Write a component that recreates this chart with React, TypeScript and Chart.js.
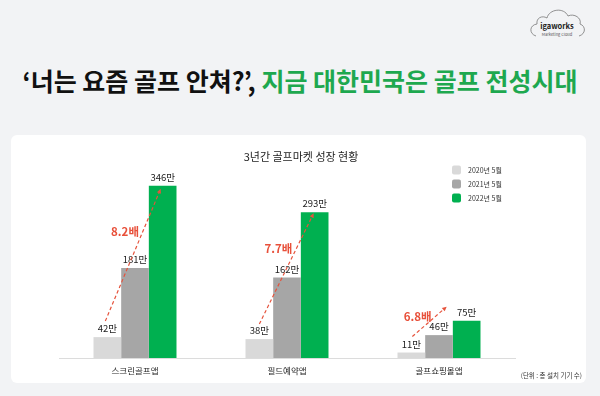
import React, { useEffect, useRef } from 'react';
import { Chart, registerables } from 'chart.js';

Chart.register(...registerables);

// ---------- data ----------
const headlineBlack = '‘너는 요즘 골프 안쳐?’, ';
const headlineGreen = '지금 대한민국은 골프 전성시대';
const chartTitle = '3년간 골프마켓 성장 현황';
const unitNote = '(단위 : 총 설치 기기 수)';
const categories = ['스크린골프앱', '필드예약앱', '골프쇼핑몰앱'];
const seriesLabels = ['2020년 5월', '2021년 5월', '2022년 5월'];
const values2020 = [42, 38, 11];
const values2021 = [181, 162, 46];
const values2022 = [346, 293, 75];
const valueSuffix = '만';
const growthLabels = ['8.2배', '7.7배', '6.8배'];
const yMax = 400;

// ---------- styles ----------
const FONT = '"Noto Sans CJK KR", "Noto Sans", sans-serif';
const seriesColors = ['#d9d9d9', '#a6a6a6', '#00b050'];
const RED = '#e6533c';
// arrow anchor offsets (px) relative to bar tops: [startDx, startDy, endDx, endDy]
const arrowOffsets = [
  [-2, -16, -2, 3],
  [0, -15, -1, 1],
  [1, -16, -20, -14],
];

export default function App() {
  const ref = useRef<HTMLCanvasElement>(null);

  useEffect(() => {
    const canvas = ref.current;
    if (!canvas) return;

    const overlay = {
      id: 'overlay',
      afterDraw(chart: any) {
        const ctx = chart.ctx as CanvasRenderingContext2D;
        ctx.save();
        // title
        ctx.fillStyle = '#222';
        ctx.textAlign = 'center';
        ctx.textBaseline = 'middle';
        ctx.font = `11px ${FONT}`;
        ctx.fillText(chartTitle, 290, 22);

        // legend
        chart.data.datasets.forEach((ds: any, i: number) => {
          const y = 35 + i * 14;
          ctx.fillStyle = ds.backgroundColor;
          ctx.beginPath();
          (ctx as any).roundRect(441, y - 4.5, 9, 9, 2);
          ctx.fill();
          ctx.fillStyle = '#333';
          ctx.textAlign = 'left';
          ctx.font = `7px ${FONT}`;
          ctx.fillText(ds.label, 457, y + 0.5);
        });

        // unit note
        ctx.textAlign = 'right';
        ctx.fillStyle = '#333';
        ctx.font = `6.5px ${FONT}`;
        ctx.fillText(unitNote, 571, 241);

        // value labels
        ctx.textAlign = 'center';
        ctx.font = `9.5px ${FONT}`;
        ctx.fillStyle = '#222';
        chart.data.datasets.forEach((ds: any, di: number) => {
          const meta = chart.getDatasetMeta(di);
          meta.data.forEach((bar: any, i: number) => {
            ctx.fillText(`${ds.data[i]}${valueSuffix}`, bar.x, bar.y - 8.5);
          });
        });

        // growth arrows
        const m0 = chart.getDatasetMeta(0);
        const m2 = chart.getDatasetMeta(2);
        growthLabels.forEach((label, i) => {
          const a = m0.data[i];
          const b = m2.data[i];
          const off = arrowOffsets[i];
          const sx = a.x + off[0];
          const sy = a.y + off[1];
          const ex = b.x + off[2];
          const ey = b.y + off[3];
          const ang = Math.atan2(ey - sy, ex - sx);
          const head = 5;
          ctx.strokeStyle = RED;
          ctx.lineWidth = 1.2;
          ctx.setLineDash([3.5, 2.5]);
          ctx.beginPath();
          ctx.moveTo(sx, sy);
          ctx.lineTo(ex - Math.cos(ang) * head * 0.8, ey - Math.sin(ang) * head * 0.8);
          ctx.stroke();
          ctx.setLineDash([]);
          ctx.fillStyle = RED;
          ctx.beginPath();
          ctx.moveTo(ex, ey);
          ctx.lineTo(ex - head * Math.cos(ang - 0.45), ey - head * Math.sin(ang - 0.45));
          ctx.lineTo(ex - head * Math.cos(ang + 0.45), ey - head * Math.sin(ang + 0.45));
          ctx.closePath();
          ctx.fill();
          // label
          const t = 0.68;
          const lx = sx + (ex - sx) * t;
          const ly = sy + (ey - sy) * t;
          ctx.font = `bold 11.5px ${FONT}`;
          ctx.textAlign = 'right';
          ctx.fillStyle = '#e8503a';
          ctx.fillText(label, lx - 4, ly);
        });
        ctx.restore();
      },
    };

    const chart = new Chart(canvas, {
      type: 'bar',
      data: {
        labels: categories,
        datasets: [values2020, values2021, values2022].map((vals, i) => ({
          label: seriesLabels[i],
          data: vals,
          backgroundColor: seriesColors[i],
          borderWidth: 0,
          categoryPercentage: 0.546,
          barPercentage: 1,
        })),
      },
      options: {
        responsive: false,
        animation: false,
        layout: { padding: { top: 24, left: 48, right: 71, bottom: 0 } },
        plugins: {
          legend: { display: false },
          title: { display: false },
          tooltip: { enabled: false },
        },
        scales: {
          x: {
            grid: { display: false, drawTicks: false },
            border: { display: true, color: '#dcdcdc', width: 1 },
            ticks: { color: '#222', font: { size: 8.5, family: FONT }, padding: 8 },
            afterFit: (axis: any) => {
              axis.height = 25;
            },
          },
          y: {
            display: false,
            min: 0,
            max: yMax,
          },
        },
      },
      plugins: [overlay],
    });

    return () => chart.destroy();
  }, []);

  return (
    <div
      style={{
        position: 'fixed',
        left: 0,
        top: 0,
        width: 600,
        height: 396,
        background: '#f2f3f5',
        overflow: 'hidden',
        fontFamily: FONT,
      }}
    >
      <svg
        width={60}
        height={40}
        viewBox="0 0 60 40"
        style={{ position: 'absolute', left: 528, top: 3 }}
      >
        <path
          d="M8 33 C1 31 1 22 9 21 C8 15 14 12 19 15 C21 6 36 4 40 13 C46 10 54 15 52 21 C58 23 58 31 51 33"
          fill="none"
          stroke="#777"
          strokeWidth={0.8}
        />
        <text x={29} y={26} textAnchor="middle" fontFamily={FONT} fontWeight="bold" fontSize={7.5} fill="#222">
          igaworks
        </text>
        <text x={29} y={32.5} textAnchor="middle" fontFamily={FONT} fontSize={4} fill="#555">
          Marketing Cloud
        </text>
      </svg>
      <div
        style={{
          position: 'absolute',
          left: 0,
          top: 64,
          width: 600,
          textAlign: 'center',
          fontSize: 25,
          lineHeight: '32px',
          fontWeight: 'bold',
          color: '#111',
          whiteSpace: 'nowrap',
        }}
      >
        {headlineBlack}
        <span style={{ color: '#1ea84f' }}>{headlineGreen}</span>
      </div>
      <div
        style={{
          position: 'absolute',
          left: 11,
          top: 135,
          width: 575,
          height: 248,
          background: '#fff',
          borderRadius: 6,
        }}
      >
        <canvas ref={ref} width={575} height={248} style={{ display: 'block' }} />
      </div>
    </div>
  );
}
